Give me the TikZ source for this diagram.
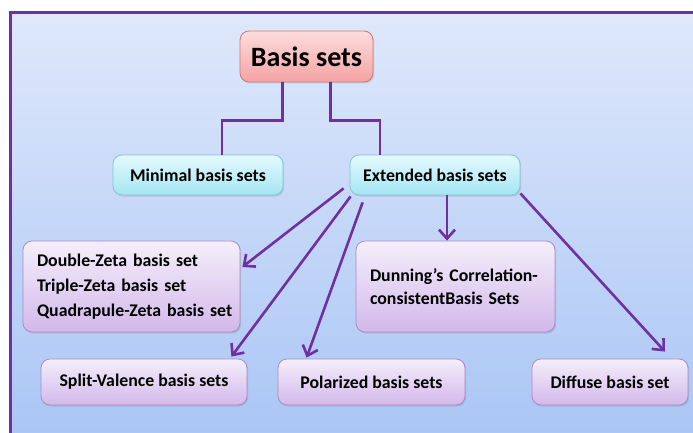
\documentclass[tikz,border=0pt]{standalone}
\usepackage{fontspec}
\setmainfont{Carlito}
\usetikzlibrary{arrows.meta,shadows,calc}
\definecolor{linep}{HTML}{7030A0}
\definecolor{bgtop}{HTML}{DFE8FB}
\definecolor{bgbot}{HTML}{A9C5F5}
\definecolor{pinkt}{HTML}{FDDCDC}
\definecolor{pinkb}{HTML}{F5A3A3}
\definecolor{pinkd}{HTML}{C97A7A}
\definecolor{cyant}{HTML}{E4F9FD}
\definecolor{cyanb}{HTML}{A3E6F3}
\definecolor{cyand}{HTML}{86C4D4}
\definecolor{purt}{HTML}{F4EFFB}
\definecolor{purb}{HTML}{D3B8EA}
\definecolor{purd}{HTML}{A98CC6}
\tikzset{
  boxbase/.style={rounded corners=9pt, line width=0.8pt, inner sep=0pt, align=center,
    font=\bfseries\fontsize{17.8}{22}\selectfont,
    drop shadow={shadow xshift=1.2pt, shadow yshift=-1.5pt, opacity=0.25}},
  rootbox/.style={boxbase, draw=pinkd, top color=pinkt, bottom color=pinkb,
    font=\bfseries\fontsize{28}{30}\selectfont},
  cyanbox/.style={boxbase, draw=cyand, top color=cyant, bottom color=cyanb},
  purbox/.style={boxbase, draw=purd, top color=purt, bottom color=purb},
  link/.style={draw=linep, line width=2.6pt},
  arr/.style={link, -{Straight Barb[length=9pt,width=16pt,line width=2.6pt]}}
}
\begin{document}
\begin{tikzpicture}[x=1pt,y=-1pt]
\useasboundingbox (0,0) rectangle (693,433);
\begin{scope}
\clip (0,0) rectangle (693,433);
\fill[white] (0,0) rectangle (693,433);
\shade[top color=bgtop, bottom color=bgbot] (10,13) rectangle (705,445);
\draw[linep, line width=3pt] (10,445) -- (10,13) -- (705,13);
\end{scope}

\node[rootbox, minimum width=133, minimum height=51] (root) at (306.5,56.5) {Basis sets};
\node[cyanbox, minimum width=170, minimum height=40] (min) at (198,175) {Minimal basis sets};
\node[cyanbox, minimum width=170, minimum height=40] (ext) at (435,175) {Extended basis sets};
\node[purbox, minimum width=217, minimum height=91, align=left, text width=189, font=\bfseries\fontsize{17.8}{25}\selectfont] (dz) at (131.5,286.5)
  {\mbox{Double-Zeta basis set}\\\mbox{Triple-Zeta basis set}\\\mbox{Quadrapule-Zeta basis set}};
\node[purbox, minimum width=199, minimum height=91, align=left, text width=171, font=\bfseries\fontsize{17.8}{23}\selectfont] (dun) at (455.5,286.5)
  {\mbox{Dunning’s Correlation-}\\\mbox{consistentBasis Sets}};
\node[purbox, minimum width=206, minimum height=46] (split) at (144,382) {Split-Valence basis sets};
\node[purbox, minimum width=187, minimum height=46] (pol) at (371.5,382) {Polarized basis sets};
\node[purbox, minimum width=156, minimum height=46] (dif) at (610,382) {Diffuse basis set};

\draw[link] ([xshift=-24]root.south) -- ++(0,38) -| ([xshift=24]min.north);
\draw[link] ([xshift=24]root.south) -- ++(0,38) -| ([xshift=-55]ext.north);

\draw[arr] ([shift={(-6,-7)}]ext.south west) -- ([shift={(2,-19.5)}]dz.east);
\draw[arr] ([shift={(1,1)}]ext.south west) -- ([shift={(-16,-2)}]split.north east);
\draw[arr] ([shift={(13,7)}]ext.south west) -- ([shift={(29,-1)}]pol.north west);
\draw[arr] ([xshift=12]ext.south) -- ([xshift=12]ext.south |- dun.north);
\draw[arr] ([shift={(0,-2)}]ext.south east) -- ([shift={(55,-7)}]dif.north);
\end{tikzpicture}
\end{document}
